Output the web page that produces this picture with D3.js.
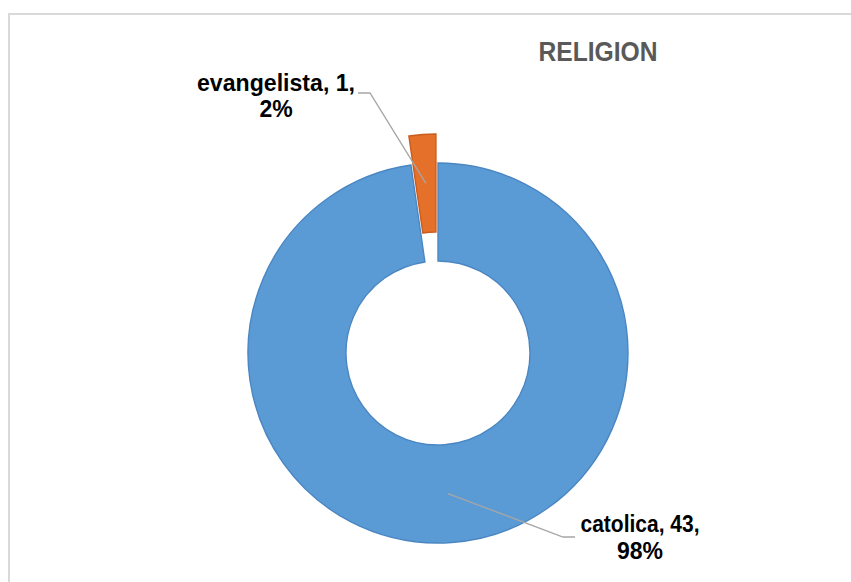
<!DOCTYPE html>
<html>
<head>
<meta charset="utf-8">
<style>
  body { margin: 0; background: #fff; }
  svg { display: block; }
</style>
</head>
<body>
<div id="container"></div>
<script src="https://cdn.jsdelivr.net/npm/d3@7"></script>
<script>

// data
const categories = ["catolica", "evangelista"];
const values = [43, 1];
const colors = ["#5b9bd5", "#e5702a"];
const strokes = ["#4a86c2", "#c95d1e"];
const title = "RELIGION";

const width = 851, height = 582;
const cx = 438, cy = 353;
const outerR = 190, innerR = 92;
const explode = 29; // evangelista pulled out

const total = d3.sum(values);
const rows = categories.map((c, i) => ({ name: c, value: values[i], i }));

const svg = d3.select("#container").append("svg")
    .attr("width", width)
    .attr("height", height);

// chart frame (runs off the right and bottom)
svg.append("rect")
    .attr("x", 9).attr("y", 14)
    .attr("width", 900).attr("height", 700)
    .attr("fill", "none")
    .attr("stroke", "#d9d9d9")
    .attr("stroke-width", 2);

svg.append("text")
    .attr("x", 598).attr("y", 61)
    .attr("text-anchor", "middle")
    .attr("font-family", "Liberation Sans, Arial, sans-serif")
    .attr("font-weight", "bold")
    .attr("font-size", 27)
    .attr("textLength", 119)
    .attr("lengthAdjust", "spacingAndGlyphs")
    .attr("fill", "#595959")
    .text(title);

const pie = d3.pie().sort(null).value(d => d.value);
const arc = d3.arc().innerRadius(innerR).outerRadius(outerR);
const arcs = pie(rows);

function offset(d) {
  if (d.data.name !== "evangelista") return [0, 0];
  const a = (d.startAngle + d.endAngle) / 2;
  return [Math.sin(a) * explode, -Math.cos(a) * explode];
}

const g = svg.append("g").attr("transform", `translate(${cx},${cy})`);

g.selectAll("path.slice").data(arcs).enter().append("path")
    .attr("class", "slice")
    .attr("d", arc)
    .attr("transform", d => `translate(${offset(d)})`)
    .attr("fill", d => colors[d.data.i])
    .attr("stroke", d => strokes[d.data.i])
    .attr("stroke-width", 1.4);

// labels, placed like the original
const labelPos = {
  evangelista: { x: 276, y: 91, gap: 26, w1: 158, size: 23, lineEnd: [358, 93], elbow: [370, 93] },
  catolica:    { x: 640, y: 532, gap: 27, w1: 119, size: 23, lineEnd: [575, 537], elbow: [563, 537] }
};

arcs.forEach(d => {
  const p = labelPos[d.data.name];
  const [ox, oy] = offset(d);
  const c = arc.centroid(d);
  const start = [cx + c[0] + ox, cy + c[1] + oy];
  svg.append("path")
      .attr("d", d3.line()([start, p.elbow, p.lineEnd]))
      .attr("fill", "none")
      .attr("stroke", "#a6a6a6")
      .attr("stroke-width", 1.3);

  const pct = Math.round(d.data.value / total * 100) + "%";
  const t = svg.append("text")
      .attr("text-anchor", "middle")
      .attr("font-family", "Liberation Sans, Arial, sans-serif")
      .attr("font-weight", "bold")
      .attr("font-size", p.size)
      .attr("fill", "#000");
  t.append("tspan").attr("x", p.x).attr("y", p.y)
      .attr("textLength", p.w1)
      .attr("lengthAdjust", "spacingAndGlyphs")
      .text(`${d.data.name}, ${d.data.value},`);
  t.append("tspan").attr("x", p.x).attr("y", p.y + p.gap)
      .text(pct);
});

</script>
</body>
</html>
